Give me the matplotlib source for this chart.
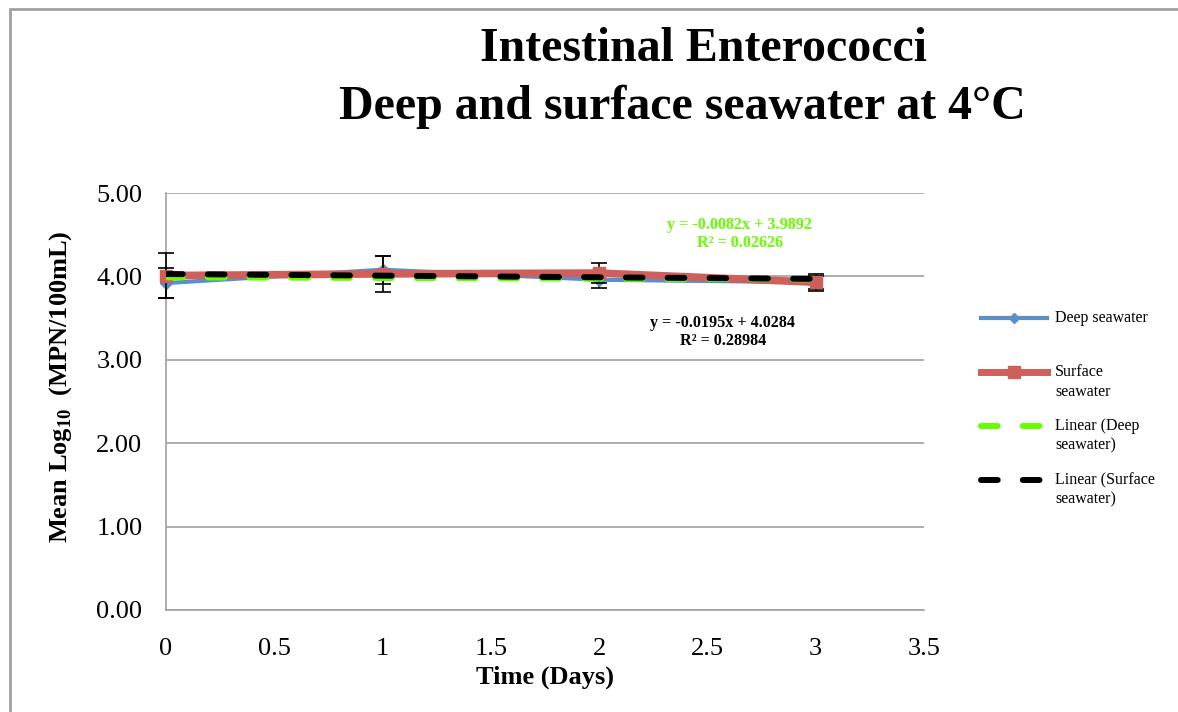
import numpy as np
import matplotlib.pyplot as plt
from matplotlib.patches import Rectangle
from matplotlib.lines import Line2D

# data
days = [0, 1, 2, 3]
deep = [3.92, 4.08, 3.96, 3.93]
surface = [4.01, 4.03, 4.04, 3.93]
deep_err = [0.18, 0.17, 0.10, 0.08]
surface_err = [0.27, 0.22, 0.12, 0.10]

deep_fit = (-0.0082, 3.9892)
surface_fit = (-0.0195, 4.0284)

plt.rcParams['font.family'] = ['Liberation Serif', 'DejaVu Serif']
plt.rcParams['mathtext.fontset'] = 'custom'
plt.rcParams['mathtext.rm'] = 'Liberation Serif'
plt.rcParams['mathtext.bf'] = 'Liberation Serif:bold'

W, H = 1178, 712
fig = plt.figure(figsize=(W/100, H/100), dpi=100)
fig.patches.append(Rectangle((10/W, -0.1), 1.2, (H-9)/H + 0.1, transform=fig.transFigure,
                             fill=False, edgecolor='#a0a0a0', linewidth=2))
ax = fig.add_axes([166/W, 1-610/H, (924-166)/W, (610-193)/H])

blue = '#5b8fcc'
red = '#cf5f5a'
green = '#66ff00'
dash = (0, (2.8, 4.2))

x = np.array(days)
eb1 = ax.errorbar(days, deep, yerr=deep_err, color=blue, lw=3, marker='D', ms=6,
                  ecolor='black', elinewidth=1.2, capsize=6, capthick=1.2, zorder=3)
eb2 = ax.errorbar(days, surface, yerr=surface_err, color=red, lw=5.5, marker='s', ms=9,
                  ecolor='black', elinewidth=1.2, capsize=6, capthick=1.2, zorder=4)
for eb in (eb1, eb2):
    for art in eb.lines[1] + eb.lines[2]:
        art.set_clip_on(False)
    eb.lines[0].set_clip_on(False)
ax.plot(x, deep_fit[0]*x + deep_fit[1], color=green, lw=4.3, ls=dash,
        dash_capstyle='round', zorder=5)
ax.plot(x, surface_fit[0]*x + surface_fit[1], color='black', lw=4.3, ls=dash,
        dash_capstyle='round', zorder=6)

ax.set_xlim(0, 3.5)
ax.set_ylim(0, 5)
ax.set_xticks(np.arange(0, 3.51, 0.5))
ax.set_xticklabels(['0', '0.5', '1', '1.5', '2', '2.5', '3', '3.5'])
ax.set_yticks(np.arange(0, 5.01, 1))
ax.set_yticklabels(['%.2f' % v for v in np.arange(0, 5.01, 1)])
ax.tick_params(length=0, labelsize=19)
ax.tick_params(axis='x', pad=20)
ax.tick_params(axis='y', pad=17)
ax.grid(axis='y', color='#a0a0a0', lw=1.2)
ax.set_axisbelow(True)
for s in ['top', 'right']:
    ax.spines[s].set_visible(False)
for s in ['left', 'bottom']:
    ax.spines[s].set_color('#a0a0a0')
    ax.spines[s].set_linewidth(1.2)

ax.set_xlabel('Time (Days)', fontsize=19, fontweight='bold', labelpad=4)
ax.set_ylabel('Mean Log$_{\\mathbf{10}}$  (MPN/100mL)', fontsize=19, fontweight='bold')
ax.yaxis.set_label_coords((74-166)/758, (610-387)/417)

ax.text(2.65, 4.51, 'y = -0.0082x + 3.9892\nR² = 0.02626', color=green, fontsize=11.6,
        fontweight='bold', ha='center', va='center', linespacing=1.15)
ax.text(2.57, 3.33, 'y = -0.0195x + 4.0284\nR² = 0.28984', color='black', fontsize=11.6,
        fontweight='bold', ha='center', va='center', linespacing=1.15)

fig.text(704/W, 1-49/H, 'Intestinal Enterococci', fontsize=34.5, fontweight='bold',
         ha='center', va='center')
fig.text(682/W, 1-107/H, 'Deep and surface seawater at 4°C', fontsize=34.5, fontweight='bold',
         ha='center', va='center')

# legend drawn by hand to match the spacing of the original
legend_items = [
    ('Deep seawater', 318, dict(color=blue, lw=3, marker='D', ms=5, markevery=[1])),
    ('Surface\nseawater', 372, dict(color=red, lw=5, marker='s', ms=8, markevery=[1])),
    ('Linear (Deep\nseawater)', 426, dict(color=green, lw=4.3, ls=dash, dash_capstyle='round')),
    ('Linear (Surface\nseawater)', 480, dict(color='black', lw=4.3, ls=dash, dash_capstyle='round')),
]
for label, ypix, style in legend_items:
    yf = 1 - ypix/H
    fig.add_artist(Line2D([981/W, 1014/W, 1047/W], [yf, yf, yf], transform=fig.transFigure, **style))
    fig.text(1055/W, yf + 8/H, label, fontsize=11.5, ha='left', va='top', linespacing=1.3)

fig.savefig('out.png', dpi=100)
